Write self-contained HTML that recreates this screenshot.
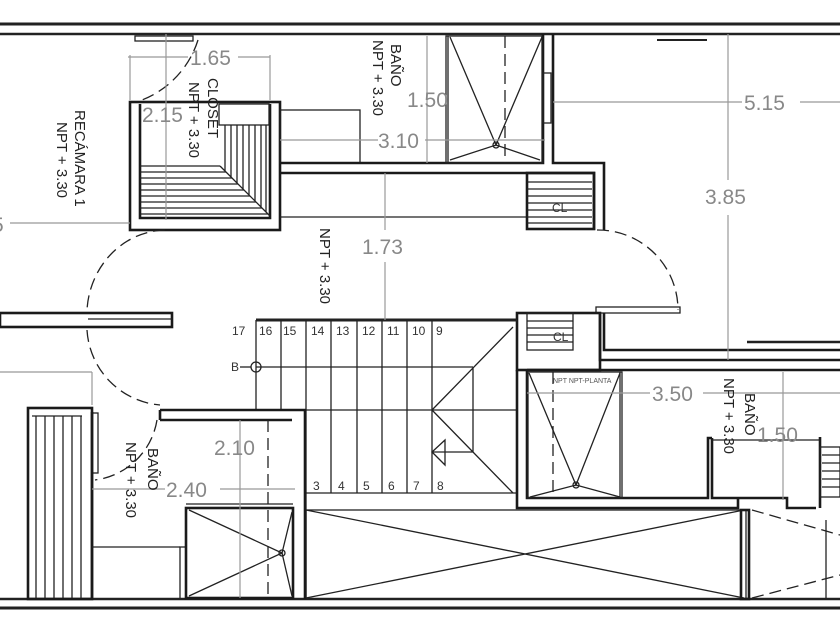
<!DOCTYPE html>
<html><head><meta charset="utf-8"><style>
html,body{margin:0;padding:0;background:#fff;width:840px;height:630px;overflow:hidden}
svg{display:block}
.w{stroke:#1a1a1a;fill:none;stroke-width:2.6}
.t{stroke:#222;fill:none;stroke-width:1.3}
.d{stroke:#999;fill:none;stroke-width:1.2}
.dash{stroke:#222;fill:none;stroke-width:1.3;stroke-dasharray:12 6}
.dim{font-family:"Liberation Sans",sans-serif;fill:#888;font-size:21px}
.lab{font-family:"Liberation Sans",sans-serif;fill:#222;font-size:15px}
.n{font-family:"Liberation Sans",sans-serif;fill:#333;font-size:12px}
</style></head><body>
<svg width="840" height="630" viewBox="0 0 840 630" xmlns="http://www.w3.org/2000/svg">
<rect width="840" height="630" fill="#fff"/>
<line x1="0" y1="24" x2="840" y2="24" stroke="#222" stroke-width="3"/>
<line x1="0" y1="34" x2="840" y2="34" stroke="#222" stroke-width="2.5"/>
<line x1="0" y1="599" x2="840" y2="599" stroke="#222" stroke-width="2.5"/>
<line x1="0" y1="608" x2="840" y2="608" stroke="#222" stroke-width="3"/>
<rect x="135" y="36" width="58" height="5" class="t"/>
<path d="M198 40 A95 95 0 0 1 142 100" class="dash"/>
<rect x="130" y="102" width="150" height="128" class="w"/>
<path d="M140 104 V218 H270 V104" class="w"/>
<rect x="219" y="104" width="50" height="21" class="t"/>
<g class="t">
<line x1="140" y1="166" x2="220" y2="166"/><line x1="140" y1="172" x2="226" y2="172"/><line x1="140" y1="178" x2="232" y2="178"/><line x1="140" y1="184" x2="238" y2="184"/><line x1="140" y1="190" x2="244" y2="190"/><line x1="140" y1="196" x2="250" y2="196"/><line x1="140" y1="202" x2="256" y2="202"/><line x1="140" y1="208" x2="262" y2="208"/><line x1="140" y1="214" x2="268" y2="214"/>
<line x1="220" y1="166" x2="270" y2="216"/>
<line x1="225" y1="125" x2="225" y2="171"/><line x1="231" y1="125" x2="231" y2="177"/><line x1="237" y1="125" x2="237" y2="183"/><line x1="243" y1="125" x2="243" y2="189"/><line x1="249" y1="125" x2="249" y2="195"/><line x1="255" y1="125" x2="255" y2="201"/><line x1="261" y1="125" x2="261" y2="207"/><line x1="266" y1="125" x2="266" y2="212"/>
</g>
<rect x="280" y="110" width="80" height="53" class="t"/>
<path d="M280 163 H543 V34" class="w"/>
<rect x="446" y="36" width="96" height="127" class="t"/>
<line x1="448" y1="36" x2="448" y2="163" class="t"/>
<line x1="505" y1="36" x2="505" y2="163" class="dash"/>
<path d="M450 37 L496 145 L542 37 M450 160 L496 145 L540 160" class="t"/>
<circle cx="496" cy="145" r="3" class="t"/>
<rect x="543" y="73" width="8" height="50" class="t"/>
<path d="M553 34 V163 H604 V230" class="w"/>
<path d="M280 173 H594 V230" class="w"/>
<line x1="280" y1="217" x2="527" y2="217" class="t"/>
<rect x="527" y="173" width="67" height="56" class="w"/>
<g class="t"><line x1="527" y1="182" x2="592" y2="182"/><line x1="527" y1="189" x2="592" y2="189"/><line x1="527" y1="196" x2="592" y2="196"/><line x1="527" y1="203" x2="592" y2="203"/><line x1="527" y1="210" x2="592" y2="210"/><line x1="527" y1="217" x2="592" y2="217"/><line x1="527" y1="223" x2="592" y2="223"/></g>
<text x="552" y="212" class="n" font-size="10">CL</text>
<line x1="657" y1="40" x2="707" y2="40" stroke="#222" stroke-width="2"/>
<path d="M165 230 A80 85 0 0 0 87 310" class="dash"/>
<path d="M87 330 A80 80 0 0 0 160 405" class="dash"/>
<path d="M597 230 A80 80 0 0 1 678 310" class="dash"/>
<rect x="0" y="313" width="172" height="14" class="w"/>
<line x1="88" y1="319" x2="172" y2="319" class="t"/>
<rect x="596" y="307" width="84" height="6" class="t"/>
<rect x="517" y="313" width="83" height="57" class="w"/>
<rect x="527" y="313" width="46" height="37" class="t"/>
<g class="t"><line x1="527" y1="321" x2="573" y2="321"/><line x1="527" y1="328" x2="573" y2="328"/><line x1="527" y1="335" x2="573" y2="335"/><line x1="527" y1="342" x2="573" y2="342"/></g>
<text x="553" y="341" class="n" font-size="10">CL</text>
<path d="M600 313 V360 H840 M604 313 V350 H840" class="w"/>
<line x1="747" y1="342" x2="840" y2="342" stroke="#222" stroke-width="2.5"/>
<line x1="256" y1="320" x2="517" y2="320" stroke="#222" stroke-width="3"/>
<g class="t">
<line x1="256" y1="320" x2="256" y2="410"/><line x1="281" y1="320" x2="281" y2="410"/>
<line x1="306" y1="320" x2="306" y2="600"/><line x1="331" y1="320" x2="331" y2="493"/><line x1="357" y1="320" x2="357" y2="493"/><line x1="382" y1="320" x2="382" y2="493"/><line x1="407" y1="320" x2="407" y2="493"/><line x1="432" y1="320" x2="432" y2="493"/>
<line x1="256" y1="367" x2="473" y2="367"/><line x1="256" y1="410" x2="517" y2="410"/><line x1="306" y1="493" x2="517" y2="493"/>
<path d="M432 410 L513 327 M432 410 L513 493 M473 367 V452 M432 452 H473 M445 440 L432 452 L445 465 Z"/>
<circle cx="256" cy="367" r="5"/><line x1="240" y1="367" x2="251" y2="367"/>
</g>
<g class="n"><text x="232" y="335">17</text><text x="259" y="335">16</text><text x="283" y="335">15</text><text x="311" y="335">14</text><text x="336" y="335">13</text><text x="362" y="335">12</text><text x="387" y="335">11</text><text x="412" y="335">10</text><text x="436" y="335">9</text><text x="231" y="371">B</text>
<text x="313" y="490">3</text><text x="338" y="490">4</text><text x="363" y="490">5</text><text x="388" y="490">6</text><text x="413" y="490">7</text><text x="437" y="490">8</text></g>
<path d="M517 370 V508 H738 V497 M527 370 V498 H708 V438 H712" class="w"/>
<path d="M527 370 H840" class="w"/>
<path d="M712 438 V498 H787 V508 H816 M820 437 V508" class="w"/>
<line x1="712" y1="440" x2="820" y2="440" class="t"/>
<rect x="820" y="447" width="20" height="50" class="t"/>
<g class="t"><line x1="822" y1="455" x2="840" y2="455"/><line x1="822" y1="463" x2="840" y2="463"/><line x1="822" y1="471" x2="840" y2="471"/><line x1="822" y1="479" x2="840" y2="479"/><line x1="822" y1="487" x2="840" y2="487"/></g>
<rect x="528" y="372" width="94" height="126" class="t"/>
<line x1="620" y1="372" x2="620" y2="498" class="t"/>
<line x1="553" y1="372" x2="553" y2="498" class="dash"/>
<path d="M529 373 L576 485 L620 373 M530 497 L576 485 L620 497" class="t"/>
<circle cx="576" cy="485" r="3" class="t"/>
<text x="553" y="383" font-family="Liberation Sans,sans-serif" font-size="7" fill="#555">NPT NPT-PLANTA</text>
<rect x="306" y="510" width="440" height="89" class="t"/>
<path d="M306 510 L744 598 M306 598 L744 510" class="t" stroke="#666"/>
<rect x="741" y="510" width="8" height="89" class="w"/>
<path d="M752 510 L840 535 M752 598 L840 575" class="dash" stroke="#888"/>
<line x1="826" y1="520" x2="826" y2="599" class="t"/>
<rect x="28" y="408" width="64" height="191" class="w"/>
<g class="t"><line x1="36" y1="416" x2="36" y2="598"/><line x1="45" y1="416" x2="45" y2="598"/><line x1="54" y1="416" x2="54" y2="598"/><line x1="63" y1="416" x2="63" y2="598"/><line x1="72" y1="416" x2="72" y2="598"/><line x1="81" y1="416" x2="81" y2="598"/><line x1="32" y1="416" x2="82" y2="416"/></g>
<rect x="92" y="413" width="6" height="60" class="t"/>
<path d="M92 598 V412 M160 410 H305 V599 M160 410 V420 M292 420 H160" class="w"/>
<path d="M157 420 A72 72 0 0 1 95 480" class="dash"/>
<line x1="92" y1="547" x2="180" y2="547" class="t"/>
<rect x="180" y="547" width="6" height="52" class="t"/>
<rect x="186" y="508" width="107" height="90" class="w"/>
<line x1="186" y1="504" x2="293" y2="504" class="t"/>
<path d="M189 510 L282 553 L189 596 M282 553 L292 512 M282 553 L292 596" class="t"/>
<circle cx="282" cy="553" r="3" class="t"/>
<line x1="268" y1="420" x2="268" y2="598" class="dash"/>
<g class="d">
<line x1="128" y1="57" x2="188" y2="57"/><line x1="238" y1="57" x2="270" y2="57"/>
<line x1="130" y1="55" x2="130" y2="100"/><line x1="270" y1="55" x2="270" y2="100"/>
<line x1="166" y1="34" x2="166" y2="220"/>
<line x1="280" y1="140" x2="378" y2="140"/><line x1="425" y1="140" x2="545" y2="140"/>
<line x1="427" y1="36" x2="427" y2="163"/>
<line x1="553" y1="102" x2="742" y2="102"/><line x1="800" y1="102" x2="840" y2="102"/>
<line x1="728" y1="34" x2="728" y2="180"/><line x1="728" y1="215" x2="728" y2="360"/>
<line x1="385" y1="173" x2="385" y2="230"/><line x1="385" y1="262" x2="385" y2="320"/>
<line x1="10" y1="223" x2="130" y2="223"/>
<line x1="0" y1="372" x2="92" y2="372"/><line x1="92" y1="372" x2="92" y2="405"/>
<line x1="92" y1="489" x2="165" y2="489"/><line x1="220" y1="489" x2="295" y2="489"/>
<line x1="240" y1="420" x2="240" y2="598"/>
<line x1="527" y1="393" x2="650" y2="393"/><line x1="703" y1="393" x2="840" y2="393"/>
<line x1="783" y1="372" x2="783" y2="500"/>
</g>
<g class="dim">
<text x="190" y="65">1.65</text>
<text x="142" y="122">2.15</text>
<text x="378" y="148">3.10</text>
<text x="407" y="107">1.50</text>
<text x="744" y="110">5.15</text>
<text x="705" y="204">3.85</text>
<text x="362" y="254">1.73</text>
<text x="-8" y="232">5</text>
<text x="214" y="455">2.10</text>
<text x="166" y="497">2.40</text>
<text x="652" y="401">3.50</text>
<text x="757" y="442">1.50</text>
</g>
<g class="lab">
<text transform="translate(75,110) rotate(90)">RECÁMARA 1</text>
<text transform="translate(57,122) rotate(90)">NPT + 3.30</text>
<text transform="translate(208,78) rotate(90)">CLOSET</text>
<text transform="translate(189,82) rotate(90)">NPT + 3.30</text>
<text transform="translate(391,44) rotate(90)">BAÑO</text>
<text transform="translate(373,40) rotate(90)">NPT + 3.30</text>
<text transform="translate(320,228) rotate(90)">NPT + 3.30</text>
<text transform="translate(148,448) rotate(90)">BAÑO</text>
<text transform="translate(126,442) rotate(90)">NPT + 3.30</text>
<text transform="translate(745,393) rotate(90)">BAÑO</text>
<text transform="translate(724,378) rotate(90)">NPT + 3.30</text>
</g>
</svg>
</body></html>
